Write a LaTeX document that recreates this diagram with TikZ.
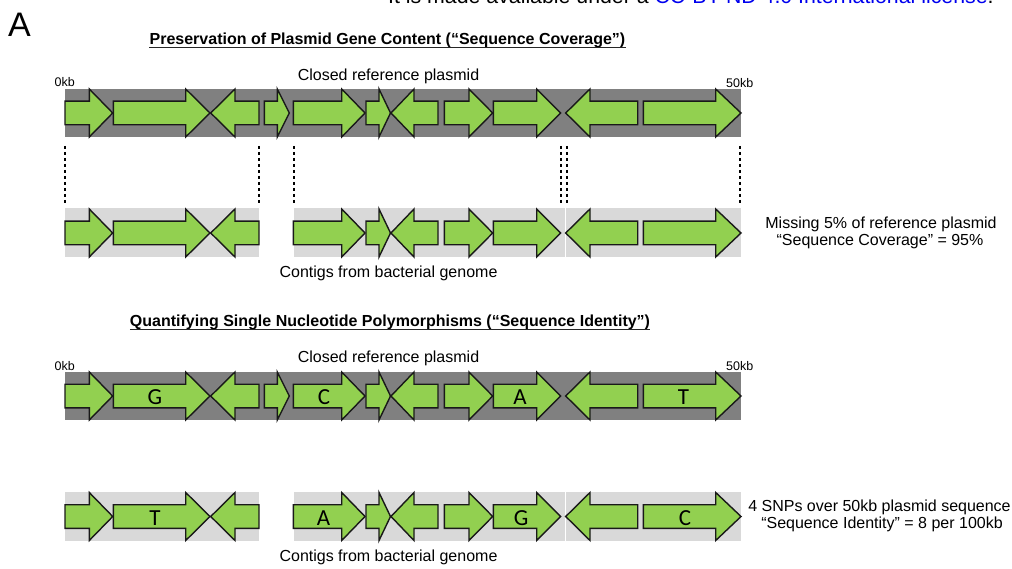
\documentclass[tikz,border=0pt]{standalone}
\usepackage{fontspec}
\setmainfont{Liberation Sans}
\newfontfamily\calib{Carlito}
\usetikzlibrary{calc}
\definecolor{genegreen}{HTML}{92D050}
\definecolor{refgray}{HTML}{808080}
\definecolor{contiggray}{HTML}{D9D9D9}
\definecolor{linkblue}{HTML}{0000EE}
\newcommand\genearrow[4]{\draw[gene] (#1,#4-11.8) -- (#2,#4-11.8) -- (#2,#4-24) -- (#3,#4) -- (#2,#4+24) -- (#2,#4+11.8) -- (#1,#4+11.8) -- cycle;}
\tikzset{
  gene/.style={fill=genegreen, draw=black!90, line width=1.4pt},
  refbar/.style={fill=refgray},
  contigbar/.style={fill=contiggray},
  dotline/.style={draw=black, line width=2.6pt, dash pattern=on 2.6pt off 3.4pt},
  lbl/.style={inner sep=0pt, anchor=base, font=\fontsize{16}{19}\selectfont},
  kb/.style={inner sep=0pt, anchor=base west, font=\fontsize{12.5}{15}\selectfont},
  ttl/.style={inner sep=0pt, anchor=base, font=\fontsize{16}{19}\selectfont\bfseries},
  uline/.style={draw=black!85, line width=1.4pt},
  snp/.style={inner sep=0pt, anchor=base, font=\fontsize{23}{27}\selectfont\calib},
}
\begin{document}
\begin{tikzpicture}[x=1pt,y=-1pt]
\useasboundingbox (0,0) rectangle (1012,569);
\begin{scope}
\clip (0,0) rectangle (1012,569);
\node[inner sep=0pt, anchor=base west, font=\fontsize{21.3}{25}\selectfont] (hdr) at (388,3.5) {It is made available under a \textcolor{linkblue}{CC-BY-ND 4.0 International license}.};
\end{scope}
\node[inner sep=0pt, anchor=base west, font=\fontsize{34}{40}\selectfont] (panelA) at (8,36.5) {A};

% ---------- Panel 1 ----------
\node[ttl] (t1) at (387.5,44.5) {Preservation of Plasmid Gene Content (“Sequence Coverage”)};
\draw[uline] ($(t1.base west)+(0,2.8)$) -- ($(t1.base east)+(0,2.8)$);
\node[lbl] (ref1) at (388.5,80.5) {Closed reference plasmid};
\node[kb] (zero1) at (54.5,87) {0kb};
\node[kb] (fifty1) at (726,87.5) {50kb};

\fill[refbar] (65,89) rectangle (741,137);
\foreach \a/\b/\c in {65/89.3/112.7, 113.3/185.7/210, 259/235/210.7, 264.3/277.3/289.3, 293.3/341.7/365, 366/379/390.5, 438/414/391, 444.3/469/492.7, 493.3/536.7/560.7, 637.7/590/565.7, 643.3/715.7/741}
  {\genearrow{\a}{\b}{\c}{113}}

\foreach \i/\x in {1/65, 2/259, 3/294, 4/561, 5/567, 6/740}{
  \coordinate (dt\i) at (\x,146);
  \coordinate (db\i) at (\x,203);
  \draw[dotline] (dt\i) -- (db\i);
}

\fill[contiggray] (65,208.5) rectangle (259,257.5);
\fill[contiggray] (294,208.5) rectangle (564.6,257.5);
\fill[contiggray] (566.4,208.5) rectangle (741,257.5);
\foreach \a/\b/\c in {65/89.3/112.7, 113.3/185.7/210, 259/235/210.7, 293.3/341.7/365, 366/379/390.5, 438/414/391, 444.3/469/492.7, 493.3/536.7/560.7, 637.7/590/565.7, 643.3/715.7/741}
  {\genearrow{\a}{\b}{\c}{233}}

\node[lbl] (cont1) at (388.5,278) {Contigs from bacterial genome};
\node[lbl] (miss1) at (881,228.5) {Missing 5\% of reference plasmid};
\node[lbl] (cov1) at (880,245.5) {“Sequence Coverage” = 95\%};

% ---------- Panel 2 ----------
\node[ttl] (t2) at (390,326.5) {Quantifying Single Nucleotide Polymorphisms (“Sequence Identity”)};
\draw[uline] ($(t2.base west)+(0,2.8)$) -- ($(t2.base east)+(0,2.8)$);
\node[lbl] (ref2) at (388.5,362.5) {Closed reference plasmid};
\node[kb] (zero2) at (54.5,370) {0kb};
\node[kb] (fifty2) at (726,370) {50kb};

\fill[refbar] (65,372) rectangle (741,420);
\foreach \a/\b/\c in {65/89.3/112.7, 113.3/185.7/210, 259/235/210.7, 264.3/277.3/289.3, 293.3/341.7/365, 366/379/390.5, 438/414/391, 444.3/469/492.7, 493.3/536.7/560.7, 637.7/590/565.7, 643.3/715.7/741}
  {\genearrow{\a}{\b}{\c}{396}}
\node[snp] (s1) at (155,404.8) {G};
\node[snp] (s2) at (324,404.8) {C};
\node[snp] (s3) at (520,404.8) {A};
\node[snp] (s4) at (683.5,404.8) {T};

\fill[contiggray] (65,492) rectangle (259,541);
\fill[contiggray] (294,492) rectangle (564.6,541);
\fill[contiggray] (566.4,492) rectangle (741,541);
\foreach \a/\b/\c in {65/89.3/112.7, 113.3/185.7/210, 259/235/210.7, 293.3/341.7/365, 366/379/390.5, 438/414/391, 444.3/469/492.7, 493.3/536.7/560.7, 637.7/590/565.7, 643.3/715.7/741}
  {\genearrow{\a}{\b}{\c}{516.5}}
\node[snp] (c1) at (155,525.3) {T};
\node[snp] (c2) at (323.5,525.3) {A};
\node[snp] (c3) at (521,525.3) {G};
\node[snp] (c4) at (685,525.3) {C};

\node[lbl] (cont2) at (388.5,561) {Contigs from bacterial genome};
\node[lbl] (snps) at (879.5,511) {4 SNPs over 50kb plasmid sequence};
\node[lbl] (ident) at (882,528) {“Sequence Identity” = 8 per 100kb};
\end{tikzpicture}
\end{document}
